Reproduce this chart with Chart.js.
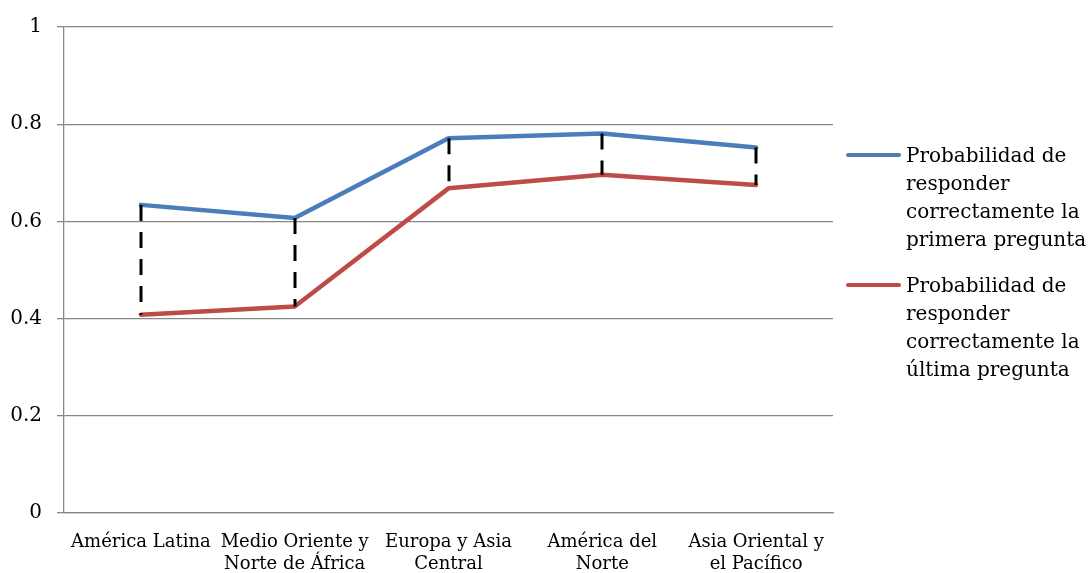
<!DOCTYPE html>
<html>
<head>
<meta charset="utf-8">
<script src="https://cdn.jsdelivr.net/npm/chart.js@4/dist/chart.umd.min.js"></script>
<style>
  html, body { margin: 0; padding: 0; background: #fff; }
  #wrap { position: relative; width: 1088px; height: 573px; }
  #chart { position: absolute; left: 0; top: 0; }
  #legend { position: absolute; left: 846px; top: 141px; font-family: "DejaVu Serif", serif; font-size: 20px; color: #000; white-space: nowrap; }
  .item { position: relative; padding-left: 60px; line-height: 28px; margin-bottom: 18px; }
  .swatch { position: absolute; left: 0; top: 12px; width: 55px; height: 4px; border-radius: 2px; }
</style>
</head>
<body>
<div id="wrap">
  <canvas id="chart" width="1088" height="573"></canvas>
  <div id="legend"></div>
</div>
<script>
// Regions (x-axis categories, wrapped over two lines)
const regions = [
  ["América Latina"],
  ["Medio Oriente y", "Norte de África"],
  ["Europa y Asia", "Central"],
  ["América del", "Norte"],
  ["Asia Oriental y", "el Pacífico"]
];

// Probability of answering the first question correctly
const firstQuestion = [0.634, 0.607, 0.771, 0.781, 0.752];
// Probability of answering the last question correctly
const lastQuestion = [0.408, 0.425, 0.668, 0.696, 0.675];

const seriesNames = [
  ["Probabilidad de", "responder", "correctamente la", "primera pregunta"],
  ["Probabilidad de", "responder", "correctamente la", "última pregunta"]
];

const yTicks = [0, 0.2, 0.4, 0.6, 0.8, 1];

const FONT = "DejaVu Serif";
const GRID = "#868686";

// Dashed black connector between the two series at every region
const connectors = {
  id: "connectors",
  afterDatasetsDraw(chart) {
    const { ctx, scales: { x, y } } = chart;
    ctx.save();
    ctx.strokeStyle = "#000";
    ctx.lineWidth = 3;
    ctx.setLineDash([16, 11]);
    firstQuestion.forEach((v, i) => {
      const px = Math.round(x.getPixelForValue(i));
      ctx.beginPath();
      ctx.moveTo(px, y.getPixelForValue(v));
      ctx.lineTo(px, y.getPixelForValue(lastQuestion[i]));
      ctx.stroke();
    });
    ctx.restore();
  }
};

const chart = new Chart(document.getElementById("chart"), {
  type: "line",
  data: {
    labels: regions,
    datasets: [
      { label: seriesNames[0].join(" "), data: firstQuestion, borderColor: "#4A7EBB", backgroundColor: "#4A7EBB" },
      { label: seriesNames[1].join(" "), data: lastQuestion, borderColor: "#BE4B48", backgroundColor: "#BE4B48" }
    ]
  },
  options: {
    responsive: false,
    animation: false,
    events: [],
    layout: { padding: { left: 0, right: 255, top: 26, bottom: 0 } },
    elements: {
      line: { borderWidth: 4.5, tension: 0, borderCapStyle: "round", borderJoinStyle: "round" },
      point: { radius: 0 }
    },
    plugins: { legend: { display: false }, tooltip: { enabled: false } },
    scales: {
      x: {
        offset: true,
        grid: { display: false, drawTicks: false },
        border: { display: true, color: GRID, width: 1.3 },
        ticks: { color: "#000", font: { family: FONT, size: 18, lineHeight: "22px" }, padding: 18, maxRotation: 0, autoSkip: false },
        afterFit(s) { s.height = 60; }
      },
      y: {
        min: 0, max: 1,
        afterBuildTicks(s) { s.ticks = yTicks.map(v => ({ value: v })); },
        grid: { color: GRID, lineWidth: 1.3, tickLength: 7 },
        border: { display: true, color: GRID, width: 1.3 },
        ticks: { color: "#000", font: { family: FONT, size: 20 }, padding: 15, callback: v => String(v) },
        afterFit(s) { s.width = 64; }
      }
    }
  },
  plugins: [connectors]
});

// Legend with wrapped series names
const legend = document.getElementById("legend");
chart.data.datasets.forEach((ds, i) => {
  const item = document.createElement("div");
  item.className = "item";
  const sw = document.createElement("div");
  sw.className = "swatch";
  sw.style.background = ds.borderColor;
  item.appendChild(sw);
  seriesNames[i].forEach(line => {
    const d = document.createElement("div");
    d.textContent = line;
    item.appendChild(d);
  });
  legend.appendChild(item);
});
</script>
</body>
</html>
